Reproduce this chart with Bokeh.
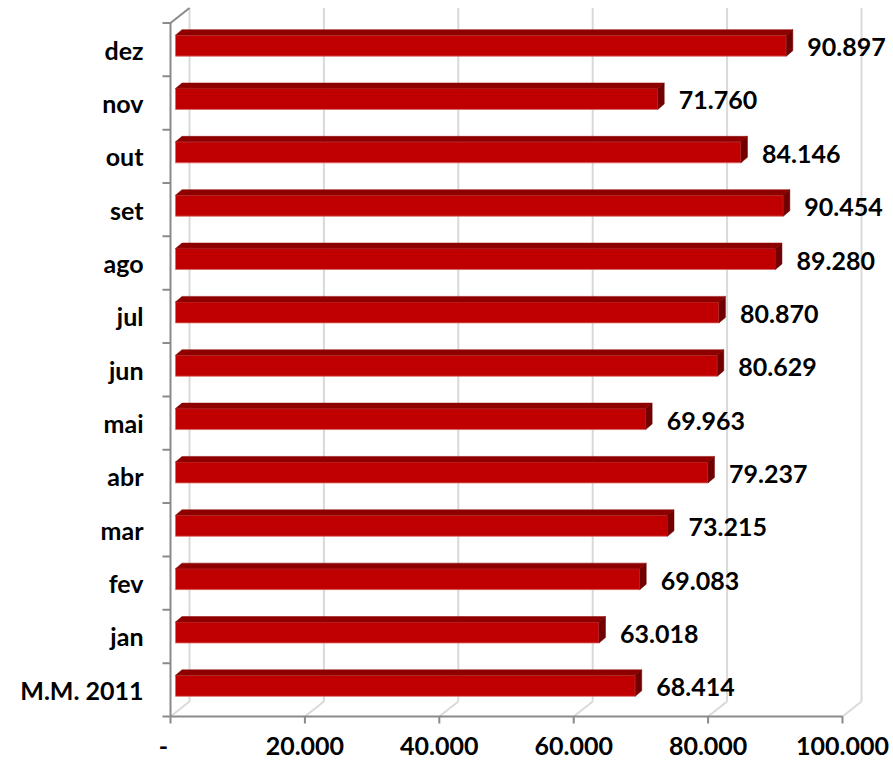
from bokeh.plotting import figure
from bokeh.models import Range1d
from bokeh.core.properties import value
from bokeh.embed import file_html
from bokeh.resources import INLINE

# ---- data ----
categories = ["M.M. 2011", "jan", "fev", "mar", "abr", "mai", "jun",
              "jul", "ago", "set", "out", "nov", "dez"]
values = [68414, 63018, 69083, 73215, 79237, 69963, 80629,
          80870, 89280, 90454, 84146, 71760, 90897]
value_labels = ["68.414", "63.018", "69.083", "73.215", "79.237", "69.963", "80.629",
                "80.870", "89.280", "90.454", "84.146", "71.760", "90.897"]
x_ticks = [0, 20000, 40000, 60000, 80000, 100000]
x_tick_labels = ["-", "20.000", "40.000", "60.000", "80.000", "100.000"]

# ---- geometry (pixels) ----
W, H = 893, 763
X0 = 170          # pixel x of value 0 on front axis
KX = 6.72 / 1000  # pixels per unit
Y0 = 716          # pixel y (from top) of front floor line
S = 53.35         # pixels per category
TXT = 9           # text baseline correction (px)


def dx(px):
    return px / KX


def dy(px):
    return px / S


n = len(categories)
DX, DY = dx(19), dy(15)               # depth of back wall
BX, BY, BH = dx(5), dy(4), dy(10.5)   # bar front offset / half height
DDX, DDY = dx(6.5), dy(5.5)           # bar depth

p = figure(width=W, height=H,
           x_range=Range1d(-X0 / KX, (W - X0) / KX),
           y_range=Range1d(-(H - Y0) / S, Y0 / S),
           output_backend="svg", toolbar_location=None,
           x_axis_type=None, y_axis_type=None, min_border=0, title=None)
p.outline_line_color = None
p.background_fill_color = "white"
p.border_fill_color = "white"

GRID = "#d9d9d9"
AXIS = "#8a8a8a"

# back wall gridlines and floor diagonals
p.segment(x0=[t + DX for t in x_ticks], y0=[DY] * len(x_ticks),
          x1=[t + DX for t in x_ticks], y1=[n + DY] * len(x_ticks),
          line_color=GRID, line_width=2)
p.segment(x0=x_ticks, y0=[0] * len(x_ticks),
          x1=[t + DX for t in x_ticks], y1=[DY] * len(x_ticks),
          line_color=GRID, line_width=2)

# axes
p.segment(x0=[0, 0, 0], y0=[0, n, 0], x1=[0, DX, x_ticks[-1]], y1=[n, n + DY, 0],
          line_color=AXIS, line_width=2)
p.segment(x0=[0] * (n + 1), y0=list(range(n + 1)),
          x1=[-dx(8)] * (n + 1), y1=list(range(n + 1)),
          line_color=AXIS, line_width=2)
p.segment(x0=x_ticks, y0=[0] * len(x_ticks), x1=x_ticks,
          y1=[-dy(7)] * len(x_ticks), line_color=AXIS, line_width=2)

# bars
left, right, bottom, top = [], [], [], []
top_xs, top_ys, side_xs, side_ys = [], [], [], []
for i, v in enumerate(values):
    c = i + 0.5 + BY
    b, t = c - BH, c + BH
    l, r = BX, BX + v
    left.append(l); right.append(r); bottom.append(b); top.append(t)
    top_xs.append([l, r, r + DDX, l + DDX])
    top_ys.append([t, t, t + DDY, t + DDY])
    side_xs.append([r, r + DDX, r + DDX, r])
    side_ys.append([b, b + DDY, t + DDY, t])

p.quad(left=left, right=right, bottom=bottom, top=top,
       fill_color="#c00000", line_color="#d86a6a", line_width=0.8)
p.patches(xs=top_xs, ys=top_ys, fill_color="#8e0000", line_color="#8e0000", line_width=0.5)
p.patches(xs=side_xs, ys=side_ys, fill_color="#720000", line_color="#720000", line_width=0.5)

FONT = value("Lato")
# value labels
p.text(x=[v + dx(26) for v in values], y=[i + 0.5 - dy(6.5 - TXT) for i in range(n)],
       text=value_labels, text_font=FONT, text_font_style="bold",
       text_font_size="25px", text_color="#000000",
       text_align="left", text_baseline="alphabetic")
# category labels
p.text(x=[-dx(27)] * n, y=[i + 0.5 - dy(9 - TXT) for i in range(n)],
       text=categories, text_font=FONT, text_font_style="bold",
       text_font_size="25px", text_color="#000000",
       text_align="right", text_baseline="alphabetic")
# x tick labels
tick_off = [dx(-7) if lbl == "-" else 0 for lbl in x_tick_labels]
p.text(x=[t + o for t, o in zip(x_ticks, tick_off)], y=[-dy(38 - TXT)] * len(x_ticks),
       text=x_tick_labels, text_font=FONT, text_font_style="bold",
       text_font_size="25px", text_color="#000000",
       text_align="center", text_baseline="alphabetic")

open("out.html", "w").write(file_html(p, INLINE))
